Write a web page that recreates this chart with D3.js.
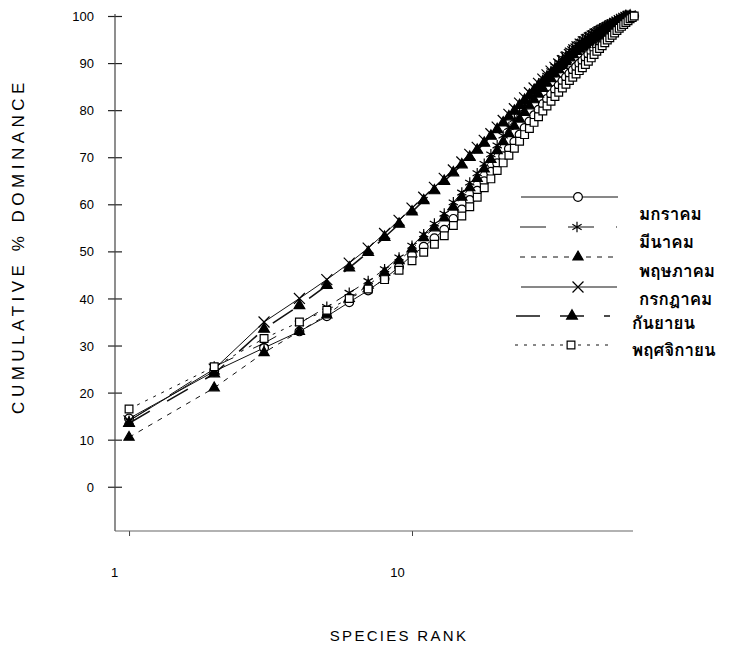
<!DOCTYPE html>
<html>
<head>
<meta charset="utf-8">
<script src="https://cdn.jsdelivr.net/npm/d3@7"></script>
<style>
  html, body { margin: 0; padding: 0; background: #fff; }
  svg { display: block; }
  .thai { font-family: "Norasi", "Kinnari", "Garuda", "Loma", "Noto Serif Thai", "Noto Sans Thai", sans-serif; }
</style>
</head>
<body>
<svg id="chart" width="736" height="649"></svg>
<script>
// ---------------- DATA ----------------
const seriesNames = ["มกราคม", "มีนาคม", "พฤษภาคม", "กรกฎาคม", "กันยายน", "พฤศจิกายน"];

const janValues = [14.5, 24.5, 29.5, 33.0, 36.2, 39.2, 41.7, 44.2, 46.7, 49.2,
  51.0, 52.8, 54.6, 56.9, 58.9, 60.9, 62.9, 64.9, 66.9, 68.7,
  70.2, 71.8, 73.3, 74.8, 76.2, 77.6, 78.9, 80.1, 81.3, 82.4,
  83.4, 84.4, 85.3, 86.2, 87.0, 87.8, 88.5, 89.2, 89.9, 90.5,
  91.2, 91.9, 92.5, 93.1, 93.7, 94.2, 94.7, 95.2, 95.7, 96.1,
  96.5, 96.9, 97.3, 97.7, 98.1, 98.5, 98.9, 99.3, 99.6, 99.8, 100];

const marValues = [14.0, 25.5, 30.5, 34.7, 38.2, 41.2, 43.7, 46.2, 48.7, 51.2,
  53.6, 55.9, 58.0, 60.4, 62.5, 64.6, 66.6, 68.6, 70.6, 72.5,
  74.6, 76.4, 78.1, 79.7, 81.1, 82.5, 83.8, 85.0, 86.2, 87.3,
  88.3, 89.3, 90.2, 91.1, 91.9, 92.7, 93.4, 94.0, 94.6, 95.1,
  95.5, 95.9, 96.3, 96.7, 97.0, 97.3, 97.6, 97.9, 98.2, 98.5,
  98.7, 98.9, 99.1, 99.3, 99.5, 99.7, 99.85, 100];

const mayValues = [10.5, 21.0, 28.5, 33.0, 36.5, 40.0, 42.8, 45.5, 48.0, 50.5,
  52.9, 55.0, 57.1, 59.4, 61.5, 63.5, 65.5, 67.5, 69.5, 71.4,
  73.3, 75.0, 76.6, 78.1, 79.5, 80.9, 82.2, 83.4, 84.6, 85.7,
  86.7, 87.7, 88.6, 89.5, 90.3, 91.1, 91.8, 92.5, 93.2, 93.8,
  94.4, 94.9, 95.4, 95.8, 96.2, 96.6, 97.0, 97.3, 97.6, 97.9,
  98.2, 98.5, 98.8, 99.1, 99.4, 99.7, 100];

const julValues = [14.0, 25.0, 35.0, 40.0, 44.0, 47.5, 50.7, 53.8, 56.6, 59.2,
  61.5, 63.6, 65.5, 67.3, 69.0, 70.6, 72.1, 73.6, 75.0, 76.4,
  77.8, 79.1, 80.3, 81.5, 82.6, 83.7, 84.7, 85.7, 86.6, 87.5,
  88.3, 89.1, 89.8, 90.5, 91.2, 91.8, 92.4, 93.0, 93.5, 94.0,
  94.5, 95.0, 95.4, 95.8, 96.2, 96.6, 96.9, 97.2, 97.5, 97.8,
  98.1, 98.4, 98.7, 99.0, 99.3, 99.5, 99.7, 99.9, 100];

const sepValues = [13.5, 24.0, 33.5, 38.5, 42.8, 46.5, 49.8, 53.0, 55.8, 58.4,
  60.8, 62.9, 64.9, 66.7, 68.4, 70.0, 71.5, 73.0, 74.5, 75.9,
  77.3, 78.6, 79.8, 81.0, 82.1, 83.2, 84.2, 85.2, 86.1, 87.0,
  87.8, 88.6, 89.3, 90.0, 90.7, 91.3, 91.9, 92.5, 93.0, 93.5,
  94.0, 94.5, 94.9, 95.3, 95.7, 96.1, 96.5, 96.8, 97.1, 97.4,
  97.7, 98.0, 98.3, 98.6, 98.9, 99.2, 99.5, 99.8, 100];

const novValues = [16.5, 25.5, 31.5, 35.0, 37.5, 40.0, 42.0, 44.0, 46.0, 48.0,
  49.8, 51.5, 53.3, 55.5, 57.5, 59.5, 61.5, 63.5, 65.4, 67.2,
  68.8, 70.4, 71.9, 73.4, 74.8, 76.1, 77.4, 78.6, 79.8, 80.9,
  81.9, 82.9, 83.8, 84.7, 85.5, 86.3, 87.0, 87.7, 88.4, 89.0,
  89.7, 90.4, 91.1, 91.8, 92.5, 93.1, 93.7, 94.3, 94.9, 95.4,
  95.9, 96.4, 96.9, 97.4, 97.8, 98.2, 98.6, 99.0, 99.4, 99.7, 100];

const yTickValues = [0, 10, 20, 30, 40, 50, 60, 70, 80, 90, 100];
const xTickValues = [1, 10];
const xTickLabels = ["1", "10"];
const xTitle = "SPECIES RANK";
const yTitle = "CUMULATIVE % DOMINANCE";

// ---------------- STYLES ----------------
const allValues = [janValues, marValues, mayValues, julValues, sepValues, novValues];
const styles = [
  { symbol: d3.symbolCircle,   size: 60, fill: "#fff", dash: null,     width: 1.0 },
  { symbol: d3.symbolAsterisk, size: 80, fill: "none", dash: "26,22",  width: 1.0 },
  { symbol: d3.symbolTriangle, size: 45, fill: "#000", dash: "5,6",    width: 1.0 },
  { symbol: d3.symbolTimes,    size: 80, fill: "none", dash: null,     width: 1.0 },
  { symbol: d3.symbolTriangle, size: 50, fill: "#000", dash: "24,20",  width: 1.6 },
  { symbol: d3.symbolSquare,   size: 60, fill: "#fff", dash: "3,6",    width: 1.0 }
];

// ---------------- SCALES ----------------
const svg = d3.select("#chart");
svg.append("rect").attr("width", 736).attr("height", 649).attr("fill", "#fff");

const x = d3.scaleLog().domain([0.892, 60.4]).range([115, 633]);
const y = d3.scaleLinear().domain([-9.4, 100]).range([531, 16]);

const numFont = "Liberation Sans, Arial, sans-serif";

// ---------------- AXES ----------------
const yAxisG = svg.append("g").attr("transform", "translate(115,0)");
yAxisG.call(d3.axisLeft(y).tickValues(yTickValues).tickSize(0).tickFormat(""));
yAxisG.select(".domain").remove();
yAxisG.append("line").attr("x1", 0).attr("x2", 0).attr("y1", y(100) - 2).attr("y2", 531)
  .attr("stroke", "#444").attr("stroke-width", 1.2);
yAxisG.selectAll(".tick").append("line")
  .attr("x1", -7).attr("x2", 7).attr("stroke", "#222").attr("stroke-width", 1.2);
yAxisG.selectAll(".tick").append("text")
  .attr("x", -21).attr("dy", "0.35em").attr("text-anchor", "end")
  .attr("font-family", numFont).attr("font-size", 13)
  .attr("fill", "#000").text(d => d);

const xAxisG = svg.append("g").attr("transform", "translate(0,531)");
xAxisG.call(d3.axisBottom(x).tickValues(xTickValues).tickSize(0).tickFormat(""));
xAxisG.select(".domain").remove();
xAxisG.append("line").attr("x1", 115).attr("x2", 633).attr("y1", 0).attr("y2", 0)
  .attr("stroke", "#666").attr("stroke-width", 1.2);
xAxisG.selectAll(".tick").append("line")
  .attr("y1", 0).attr("y2", 5).attr("stroke", "#444").attr("stroke-width", 1);
xAxisG.selectAll(".tick").append("text")
  .attr("x", -15).attr("y", 46).attr("text-anchor", "middle")
  .attr("font-family", numFont).attr("font-size", 13)
  .attr("fill", "#000").text((d, i) => xTickLabels[i]);

svg.append("text").attr("x", 399).attr("y", 641).attr("text-anchor", "middle")
  .attr("font-family", numFont).attr("font-size", 15)
  .attr("letter-spacing", 2.3).attr("fill", "#000").text(xTitle);

svg.append("text").attr("transform", "translate(24,246) rotate(-90)")
  .attr("text-anchor", "middle")
  .attr("font-family", numFont).attr("font-size", 17)
  .attr("letter-spacing", 4.5).attr("fill", "#000").text(yTitle);

// ---------------- SERIES ----------------
const line = d3.line().x(d => x(d.rank)).y(d => y(d.value));
const plot = svg.append("g");

allValues.forEach((vals, si) => {
  const st = styles[si];
  const data = vals.map((v, i) => ({ rank: i + 1, value: v }));
  plot.append("path").datum(data)
    .attr("d", line).attr("fill", "none").attr("stroke", "#111")
    .attr("stroke-width", st.width)
    .attr("stroke-dasharray", st.dash);
});

allValues.forEach((vals, si) => {
  const st = styles[si];
  const data = vals.map((v, i) => ({ rank: i + 1, value: v }));
  plot.append("g").selectAll("path").data(data).join("path")
    .attr("transform", d => `translate(${x(d.rank)},${y(d.value)})`)
    .attr("d", d3.symbol().type(st.symbol).size(st.size))
    .attr("fill", st.fill).attr("stroke", "#000").attr("stroke-width", 1.2);
});

// ---------------- LEGEND ----------------
const legendLineY = [197, 227, 257, 287, 316, 345];
const legendTextY = [214, 242, 271, 299, 323, 350];
const legendX0 = [521, 520, 520, 521, 516, 515];
const legendX1 = [618, 617, 616, 617, 610, 608];
const legendMarkX = [578, 577, 578, 578, 572, 571];
const legendTextX = [639, 639, 639, 639, 632, 632];
const legend = svg.append("g");
seriesNames.forEach((name, i) => {
  const st = styles[i];
  legend.append("line").attr("x1", legendX0[i]).attr("x2", legendX1[i])
    .attr("y1", legendLineY[i]).attr("y2", legendLineY[i])
    .attr("stroke", "#111").attr("stroke-width", st.width)
    .attr("stroke-dasharray", st.dash);
  legend.append("path")
    .attr("transform", `translate(${legendMarkX[i]},${legendLineY[i]})`)
    .attr("d", d3.symbol().type(st.symbol).size(st.size))
    .attr("fill", st.fill).attr("stroke", "#000").attr("stroke-width", 1.2);
  legend.append("text").attr("class", "thai")
    .attr("x", legendTextX[i]).attr("y", legendTextY[i]).attr("dy", "0.35em")
    .attr("font-size", 17).attr("font-weight", "bold").attr("fill", "#000").text(name);
});
</script>
</body>
</html>
